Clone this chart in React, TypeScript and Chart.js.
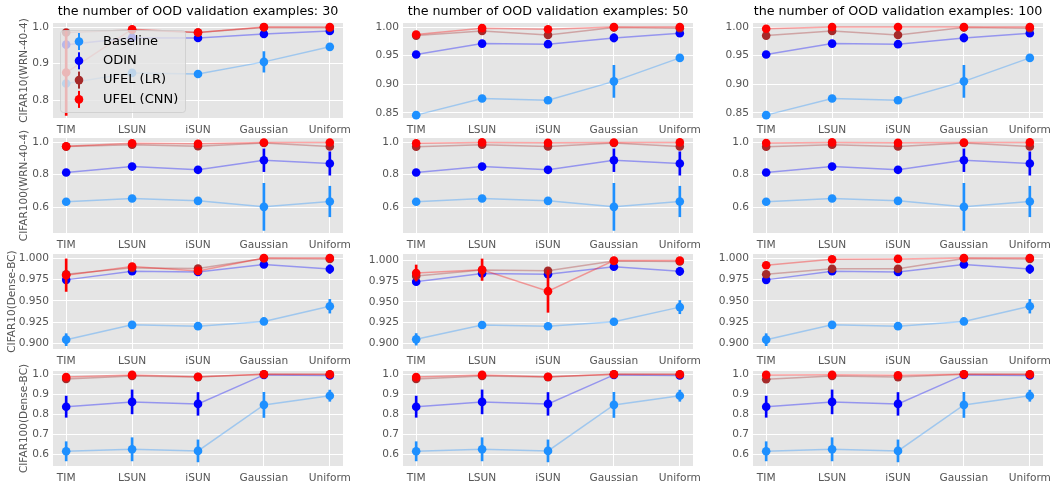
import React, { useEffect, useRef } from 'react';
import { Chart, registerables } from 'chart.js';

Chart.register(...registerables);

const FONT = "'DejaVu Sans', 'Liberation Sans', sans-serif";
Chart.defaults.font.family = FONT;

// ---------- labels ----------
const categories = ['TIM', 'LSUN', 'iSUN', 'Gaussian', 'Uniform'];
const oodCounts = [30, 50, 100];
const rowLabels = ['CIFAR10(WRN-40-4)', 'CIFAR100(WRN-40-4)', 'CIFAR10(Dense-BC)', 'CIFAR100(Dense-BC)'];
const seriesNames = ['Baseline', 'ODIN', 'UFEL (LR)', 'UFEL (CNN)'];
const seriesColors = ['#1E90FF', '#0000FF', '#A52A2A', '#FF0000'];

// ---------- CIFAR10 (WRN-40-4) ----------
const c10wrnBaseline = [0.846, 0.875, 0.872, 0.905, 0.946];
const c10wrnBaselineErr = [0.002, 0.003, 0.002, 0.028, 0.004];
const c10wrnOdin = [0.952, 0.971, 0.970, 0.981, 0.989];
const c10wrnOdinErr = [0.002, 0.002, 0.002, 0.007, 0.004];
const c10wrnLR = [
  [0.985, 0.992, 0.985, 0.999, 0.998],
  [0.985, 0.993, 0.986, 0.999, 0.998],
  [0.985, 0.993, 0.986, 0.999, 0.998],
];
const c10wrnLRErr = [
  [0.002, 0.002, 0.002, 0.001, 0.001],
  [0.002, 0.002, 0.002, 0.001, 0.001],
  [0.002, 0.002, 0.002, 0.001, 0.001],
];
const c10wrnCNN = [
  [0.876, 0.994, 0.985, 1.0, 1.0],
  [0.987, 0.998, 0.996, 1.0, 1.0],
  [0.997, 1.0, 1.0, 1.0, 1.0],
];
const c10wrnCNNErr = [
  [0.117, 0.002, 0.003, 0.0005, 0.0005],
  [0.002, 0.001, 0.001, 0.0005, 0.0005],
  [0.001, 0.0005, 0.0005, 0.0005, 0.0005],
];

// ---------- CIFAR100 (WRN-40-4) ----------
const c100wrnBaseline = [0.633, 0.653, 0.639, 0.602, 0.635];
const c100wrnBaselineErr = [0.004, 0.005, 0.004, 0.145, 0.094];
const c100wrnOdin = [0.814, 0.850, 0.830, 0.889, 0.869];
const c100wrnOdinErr = [0.004, 0.005, 0.004, 0.070, 0.072];
const c100wrnLR = [
  [0.973, 0.985, 0.975, 0.995, 0.974],
  [0.972, 0.984, 0.974, 0.995, 0.974],
  [0.972, 0.984, 0.974, 0.995, 0.974],
];
const c100wrnLRErr = [
  [0.003, 0.002, 0.003, 0.002, 0.003],
  [0.003, 0.002, 0.003, 0.002, 0.003],
  [0.003, 0.002, 0.003, 0.002, 0.003],
];
const c100wrnCNN = [
  [0.975, 0.994, 0.990, 0.998, 0.998],
  [0.994, 0.999, 0.996, 0.998, 0.999],
  [0.995, 0.999, 0.996, 0.998, 0.999],
];
const c100wrnCNNErr = [
  [0.003, 0.002, 0.002, 0.001, 0.001],
  [0.002, 0.001, 0.002, 0.001, 0.001],
  [0.002, 0.001, 0.002, 0.001, 0.001],
];

// ---------- CIFAR10 (Dense-BC) ----------
const c10denseBaseline = [0.9047, 0.922, 0.9205, 0.926, 0.9437];
const c10denseBaselineErr = [0.007, 0.002, 0.003, 0.003, 0.008];
const c10denseOdin = [0.9745, 0.9845, 0.9836, 0.9925, 0.9871];
const c10denseOdinErr = [0.004, 0.002, 0.002, 0.002, 0.005];
const c10denseLR = [
  [0.981, 0.9885, 0.9877, 0.9995, 0.999],
  [0.9815, 0.9885, 0.9877, 0.9995, 0.999],
  [0.981, 0.9875, 0.9875, 0.9995, 0.999],
];
const c10denseLRErr = [
  [0.002, 0.001, 0.001, 0.0005, 0.0005],
  [0.002, 0.001, 0.001, 0.0005, 0.0005],
  [0.002, 0.001, 0.001, 0.0005, 0.0005],
];
const c10denseCNN = [
  [0.980, 0.990, 0.985, 1.0, 1.0],
  [0.985, 0.989, 0.963, 1.0, 1.0],
  [0.9915, 0.9985, 0.999, 1.0, 1.0],
];
const c10denseCNNErr = [
  [0.019, 0.002, 0.002, 0.0005, 0.0005],
  [0.0097, 0.013, 0.0256, 0.0005, 0.0005],
  [0.001, 0.0005, 0.0005, 0.0005, 0.0005],
];

// ---------- CIFAR100 (Dense-BC) ----------
const c100denseBaseline = [0.615, 0.625, 0.617, 0.847, 0.893];
const c100denseBaselineErr = [0.048, 0.058, 0.055, 0.063, 0.028];
const c100denseOdin = [0.838, 0.862, 0.852, 0.997, 0.994];
const c100denseOdinErr = [0.053, 0.060, 0.057, 0.003, 0.004];
const c100denseLR = [
  [0.977, 0.992, 0.986, 1.0, 0.999],
  [0.977, 0.992, 0.986, 1.0, 0.999],
  [0.975, 0.992, 0.986, 1.0, 0.999],
];
const c100denseLRErr = [
  [0.003, 0.002, 0.002, 0.0005, 0.001],
  [0.003, 0.002, 0.002, 0.0005, 0.001],
  [0.003, 0.002, 0.002, 0.0005, 0.001],
];
const c100denseCNN = [
  [0.986, 0.997, 0.988, 1.0, 1.0],
  [0.986, 0.997, 0.988, 1.0, 1.0],
  [0.997, 0.998, 0.995, 1.0, 1.0],
];
const c100denseCNNErr = [
  [0.003, 0.002, 0.002, 0.0005, 0.0005],
  [0.003, 0.002, 0.002, 0.0005, 0.0005],
  [0.002, 0.001, 0.002, 0.0005, 0.0005],
];

// ---------- y tick values / labels / limits ----------
const yTicksC10wrn30 = [0.8, 0.9, 1.0];
const yTickLabelsC10wrn30 = ['0.8', '0.9', '1.0'];
const yTicksC10wrn = [0.85, 0.9, 0.95, 1.0];
const yTickLabelsC10wrn = ['0.85', '0.90', '0.95', '1.00'];
const yTicksC100wrn = [0.6, 0.8, 1.0];
const yTickLabelsC100wrn = ['0.6', '0.8', '1.0'];
const yTicksC10dense = [0.9, 0.925, 0.95, 0.975, 1.0];
const yTickLabelsC10dense = ['0.900', '0.925', '0.950', '0.975', '1.000'];
const yTicksC100dense = [0.6, 0.7, 0.8, 0.9, 1.0];
const yTickLabelsC100dense = ['0.6', '0.7', '0.8', '0.9', '1.0'];

const yLimits = [
  [[0.752, 1.011], [0.841, 1.007], [0.841, 1.007]],
  [[0.441, 1.026], [0.441, 1.026], [0.441, 1.026]],
  [[0.8938, 1.0047], [0.893, 1.008], [0.8938, 1.0047]],
  [[0.5415, 1.0165], [0.5415, 1.0165], [0.5415, 1.0165]],
];

const rows = [
  {
    means: [c10wrnBaseline, c10wrnOdin], errs: [c10wrnBaselineErr, c10wrnOdinErr],
    lr: c10wrnLR, lrErr: c10wrnLRErr, cnn: c10wrnCNN, cnnErr: c10wrnCNNErr,
    ticks: [[yTicksC10wrn30, yTickLabelsC10wrn30], [yTicksC10wrn, yTickLabelsC10wrn], [yTicksC10wrn, yTickLabelsC10wrn]],
  },
  {
    means: [c100wrnBaseline, c100wrnOdin], errs: [c100wrnBaselineErr, c100wrnOdinErr],
    lr: c100wrnLR, lrErr: c100wrnLRErr, cnn: c100wrnCNN, cnnErr: c100wrnCNNErr,
    ticks: [[yTicksC100wrn, yTickLabelsC100wrn], [yTicksC100wrn, yTickLabelsC100wrn], [yTicksC100wrn, yTickLabelsC100wrn]],
  },
  {
    means: [c10denseBaseline, c10denseOdin], errs: [c10denseBaselineErr, c10denseOdinErr],
    lr: c10denseLR, lrErr: c10denseLRErr, cnn: c10denseCNN, cnnErr: c10denseCNNErr,
    ticks: [[yTicksC10dense, yTickLabelsC10dense], [yTicksC10dense, yTickLabelsC10dense], [yTicksC10dense, yTickLabelsC10dense]],
  },
  {
    means: [c100denseBaseline, c100denseOdin], errs: [c100denseBaselineErr, c100denseOdinErr],
    lr: c100denseLR, lrErr: c100denseLRErr, cnn: c100denseCNN, cnnErr: c100denseCNNErr,
    ticks: [[yTicksC100dense, yTickLabelsC100dense], [yTicksC100dense, yTickLabelsC100dense], [yTicksC100dense, yTickLabelsC100dense]],
  },
];

// ---------- layout ----------
const ROW_TOPS = [23, 138, 254, 371];
const COL_LEFT = 350;
const AX_LEFT = 53;
const AX_W = 290;
const AX_H = 95;
const CANVAS_W = 375;
const TOP_SPACE = 23;
const X_AXIS_H = 22;
const CANVAS_H = TOP_SPACE + AX_H + X_AXIS_H;
const Y_TITLE_CENTER = [24, 24, 12, 24];

function withAlpha(hex: string, a: number) {
  const n = parseInt(hex.slice(1), 16);
  return `rgba(${(n >> 16) & 255},${(n >> 8) & 255},${n & 255},${a})`;
}

const bgPlugin = {
  id: 'panelBg',
  beforeDraw(chart: any) {
    const { ctx, chartArea } = chart;
    ctx.save();
    ctx.fillStyle = '#E5E5E5';
    ctx.fillRect(chartArea.left, chartArea.top, chartArea.right - chartArea.left, chartArea.bottom - chartArea.top);
    ctx.restore();
  },
};

const legendPlugin = {
  id: 'oodLegend',
  afterDatasetsDraw(chart: any) {
    const { ctx, chartArea } = chart;
    const x0 = chartArea.left + 7;
    const y0 = chartArea.top + 7;
    const w = 125;
    const h = 82;
    ctx.save();
    ctx.beginPath();
    if (ctx.roundRect) ctx.roundRect(x0 + 0.5, y0 + 0.5, w, h, 3);
    else ctx.rect(x0 + 0.5, y0 + 0.5, w, h);
    ctx.fillStyle = 'rgba(229,229,229,0.8)';
    ctx.fill();
    ctx.strokeStyle = 'rgba(204,204,204,0.8)';
    ctx.lineWidth = 1;
    ctx.stroke();
    seriesNames.forEach((name, i) => {
      const cy = y0 + 11.5 + i * 19.3;
      const mx = x0 + 19;
      ctx.fillStyle = seriesColors[i];
      ctx.fillRect(mx - 1, cy - 8.5, 2, 17);
      ctx.beginPath();
      ctx.arc(mx, cy, 4.3, 0, Math.PI * 2);
      ctx.fill();
      ctx.fillStyle = '#000';
      ctx.font = `13px ${FONT}`;
      ctx.textBaseline = 'middle';
      ctx.textAlign = 'left';
      ctx.fillText(name, x0 + 43, cy);
    });
    ctx.restore();
  },
};

function Panel({ r, c }: { r: number; c: number }) {
  const ref = useRef<HTMLCanvasElement>(null);
  useEffect(() => {
    const canvas = ref.current;
    if (!canvas) return;
    const row = rows[r];
    const means = [row.means[0], row.means[1], row.lr[c], row.cnn[c]];
    const errs = [row.errs[0], row.errs[1], row.lrErr[c], row.cnnErr[c]];
    const datasets: any[] = [];
    means.forEach((m, i) => {
      const color = seriesColors[i];
      datasets.push({
        type: 'line',
        label: seriesNames[i],
        data: m.map((v, k) => ({ x: k, y: v })),
        borderColor: withAlpha(color, 0.35),
        borderWidth: 1.5,
        pointRadius: 4.3,
        pointHoverRadius: 4.3,
        pointBackgroundColor: color,
        pointBorderColor: color,
        pointBorderWidth: 0,
        fill: false,
        tension: 0,
        order: (3 - i) * 2,
        clip: false,
      });
      datasets.push({
        type: 'bar',
        label: seriesNames[i] + ' error',
        data: m.map((v, k) => ({ x: k, y: [v - errs[i][k], v + errs[i][k]] })),
        backgroundColor: color,
        borderWidth: 0,
        barThickness: 2,
        grouped: false,
        order: (3 - i) * 2 + 1,
        clip: false,
      });
    });
    const [yMin, yMax] = yLimits[r][c];
    const [tickVals, tickLabels] = row.ticks[c] as [number[], string[]];
    const tickFont = { family: FONT, size: 10.6 };

    const chart = new Chart(canvas, {
      type: 'line',
      data: { datasets },
      options: {
        responsive: false,
        animation: false,
        devicePixelRatio: 1,
        events: [],
        layout: { padding: { top: r === 0 ? 0 : TOP_SPACE, right: CANVAS_W - AX_LEFT - AX_W, bottom: 0, left: 0 } },
        plugins: {
          legend: { display: false },
          tooltip: { enabled: false },
          title: {
            display: r === 0,
            text: `the number of OOD validation examples: ${oodCounts[c]}`,
            color: '#000',
            font: { family: FONT, size: 12.7, weight: 'normal' },
            padding: { top: 4.5, bottom: TOP_SPACE - 4.5 - 12.7 * 1.2 },
            fullSize: false,
          },
        },
        scales: {
          x: {
            type: 'linear',
            min: -0.2,
            max: 4.2,
            offset: false,
            afterBuildTicks: (ax: any) => {
              ax.ticks = categories.map((_, k) => ({ value: k }));
            },
            afterFit: (s: any) => {
              s.height = X_AXIS_H;
            },
            ticks: {
              callback: (v: any) => categories[Math.round(Number(v))],
              color: '#555555',
              font: tickFont,
              padding: 6,
              autoSkip: false,
              maxRotation: 0,
            },
            grid: { color: '#FFFFFF', lineWidth: 1, drawTicks: false, offset: false },
            border: { display: false },
          },
          y: {
            type: 'linear',
            min: yMin,
            max: yMax,
            afterBuildTicks: (ax: any) => {
              ax.ticks = tickVals.map((v) => ({ value: v }));
            },
            afterFit: (s: any) => {
              s.width = AX_LEFT;
            },
            ticks: {
              callback: (_v: any, i: number) => tickLabels[i],
              color: '#555555',
              font: tickFont,
              padding: 4,
            },
            grid: { color: '#FFFFFF', lineWidth: 1, drawTicks: false },
            border: { display: false },
            title: {
              display: c === 0,
              text: rowLabels[r],
              color: '#555555',
              font: { family: FONT, size: 10.5 },
              padding: { top: Y_TITLE_CENTER[r] - 6.3, bottom: 0 },
            },
          },
        },
      } as any,
      plugins: r === 0 && c === 0 ? [bgPlugin, legendPlugin] : [bgPlugin],
    });
    return () => chart.destroy();
  }, [r, c]);

  return (
    <canvas
      ref={ref}
      width={CANVAS_W}
      height={CANVAS_H}
      style={{
        position: 'absolute',
        left: c * COL_LEFT,
        top: ROW_TOPS[r] - TOP_SPACE,
        width: CANVAS_W,
        height: CANVAS_H,
      }}
    />
  );
}

export default function App() {
  const cells: React.ReactNode[] = [];
  for (let r = 0; r < 4; r++) {
    for (let c = 0; c < 3; c++) {
      cells.push(<Panel key={`${r}-${c}`} r={r} c={c} />);
    }
  }
  return (
    <div
      style={{
        position: 'absolute',
        left: 0,
        top: 0,
        width: 1051,
        height: 482,
        overflow: 'hidden',
        background: '#FFFFFF',
      }}
    >
      {cells}
    </div>
  );
}
